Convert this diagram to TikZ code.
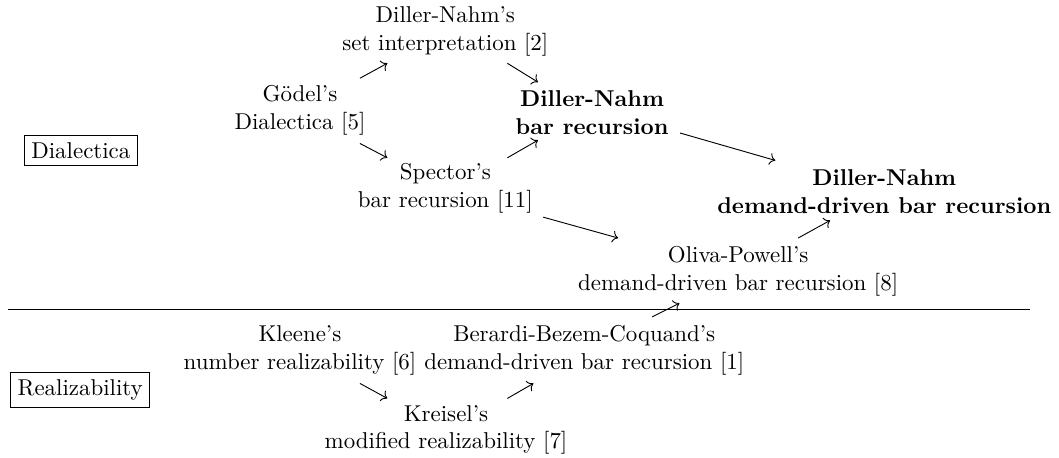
\documentclass[tikz,border=0pt]{standalone}
\usepackage{amsmath}
\usepackage{amssymb}
\usepackage{tikz}
\usetikzlibrary{calc,arrows.meta}

\begin{document}
\begin{tikzpicture}[
    work/.style={align=center,inner sep=0pt},
    mainwork/.style={align=center,inner sep=0pt,font=\bfseries},
    area/.style={draw,thin,inner sep=3pt},
    link/.style={->,thin}]
    \useasboundingbox (0,0) rectangle (16.24,-7.01);
    \node[work] (dnset) at (6.83,-0.48) {Diller-Nahm's\\set interpretation [2]};
    \node[work] (godel) at (4.60,-1.69) {G\"odel's\\Dialectica [5]};
    \node[mainwork] (dnbar) at (9.08,-1.73) {Diller-Nahm\\bar recursion};
    \node[area] (dialectica) at (1.24,-2.31) {Dialectica};
    \node[work] (spector) at (6.83,-2.89) {Spector's\\bar recursion [11]};
    \node[mainwork] (dndd) at (13.56,-2.94) {Diller-Nahm\\demand-driven bar recursion};
    \node[work] (oliva) at (11.32,-4.16) {Oliva-Powell's\\demand-driven bar recursion [8]};
    \draw[thin] (0.12,-4.75) -- (15.80,-4.75);
    \node[work] (kleene) at (4.60,-5.37) {Kleene's\\number realizability [6]};
    \node[work] (berardi) at (8.96,-5.37) {Berardi-Bezem-Coquand's\\demand-driven bar recursion [1]};
    \node[area] (realizability) at (1.23,-5.98) {Realizability};
    \node[work] (kreisel) at (6.84,-6.59) {Kreisel's\\modified realizability [7]};
    \foreach \a/\ax/\ay/\b/\bx/\by in {godel/0.92/0.49/dnset/-0.89/-0.49,
        dnset/0.95/-0.49/dnbar/-0.83/0.47,
        godel/0.92/-0.51/spector/-0.89/0.47,
        spector/0.95/0.47/dnbar/-0.83/-0.42,
        dnbar/1.35/-0.31/dndd/-1.67/0.48,
        spector/1.50/-0.44/oliva/-1.84/0.51,
        oliva/0.92/0.51/dndd/-0.83/-0.44,
        berardi/1.04/0.51/oliva/-0.90/-0.49,
        kleene/0.92/-0.51/kreisel/-0.90/0.48,
        kreisel/0.94/0.48/berardi/-0.78/-0.51} {
      \draw[link] ($(\a)+(\ax,\ay)$) -- ($(\b)+(\bx,\by)$);
    }
  \end{tikzpicture}
\end{document}
